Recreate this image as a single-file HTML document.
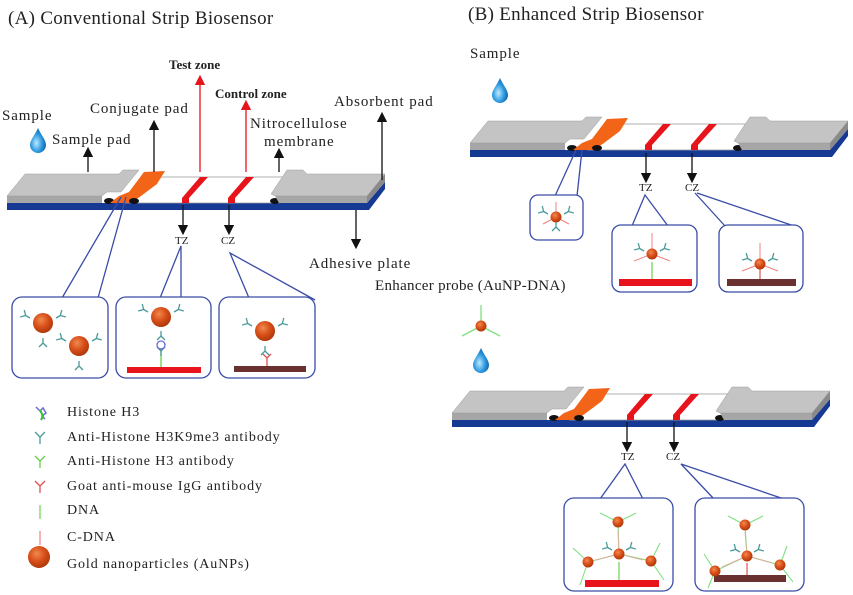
<!DOCTYPE html>
<html><head><meta charset="utf-8"><style>
html,body{margin:0;padding:0;background:#fff}
svg{display:block}
text{font-family:"Liberation Serif",serif;fill:#222}
.l{letter-spacing:0.9px}
.t{letter-spacing:0.3px}
</style></head><body>
<svg width="853" height="595" viewBox="0 0 853 595" xmlns="http://www.w3.org/2000/svg">
<defs>
<radialGradient id="au" cx="0.4" cy="0.35" r="0.7"><stop offset="0" stop-color="#f08a50"/><stop offset="0.5" stop-color="#d9501a"/><stop offset="1" stop-color="#a83408"/></radialGradient>
<radialGradient id="dr" cx="0.4" cy="0.6" r="0.7"><stop offset="0" stop-color="#bfe9ff"/><stop offset="0.5" stop-color="#2e9be0"/><stop offset="1" stop-color="#0a4f9a"/></radialGradient>
<g id="drop"><path d="M0,-12 C3,-5 8,0 8,5 A8,8 0 0 1 -8,5 C-8,0 -3,-5 0,-12Z" fill="url(#dr)"/></g>
<marker id="ak" markerWidth="8" markerHeight="8" refX="4" refY="4" orient="auto"><path d="M0,0 L8,4 L0,8Z" fill="#111"/></marker>
<marker id="ar" markerWidth="8" markerHeight="8" refX="4" refY="4" orient="auto"><path d="M0,0 L8,4 L0,8Z" fill="#e8141c"/></marker>
<g id="ab"><path d="M0,0 V-5 M0,-5 L-4,-9 M0,-5 L4,-9" stroke="#4a9a9a" stroke-width="1.3" fill="none"/></g>
<g id="strip">
<path d="M0,-7 L360,-7 L378,-28 L378,-21 L362,0 L0,0Z" fill="#163a94"/>
<path d="M0,-14 L95,-14 L95,-7 L0,-7Z" fill="#a6a6a6"/>
<path d="M0,-14 L18,-36 L112,-36 L116,-40 L132,-40 L114,-18 L100,-18 L95,-14Z" fill="#c4c4c4" stroke="#9a9a9a" stroke-width="0.5"/>
<ellipse cx="102" cy="-9" rx="5" ry="3" fill="#111"/>
<path d="M118,-7 L136,-33 L290,-33 L272,-7Z" fill="#fff" stroke="#999" stroke-width="0.8"/>
<path d="M103,-7 L112,-14 L122,-18 L137,-38 L158,-39 L150,-26 L134,-14 L124,-7Z" fill="#f26418"/>
<ellipse cx="127" cy="-9" rx="5" ry="3" fill="#111"/>
<path d="M175,-7 L175,-12 L193,-33 L201,-33 L182,-12 L182,-7Z" fill="#e8141c"/>
<path d="M221,-7 L221,-12 L239,-33 L247,-33 L228,-12 L228,-7Z" fill="#e8141c"/>
<ellipse cx="268" cy="-9" rx="5" ry="3" fill="#111"/>
<path d="M268,-14 L360,-14 L360,-7 L272,-7Z" fill="#a6a6a6"/>
<path d="M360,-14 L378,-36 L378,-28 L360,-7Z" fill="#8a8a8a"/>
<path d="M264,-16 L280,-40 L296,-40 L300,-36 L378,-36 L360,-14 L268,-14Z" fill="#c4c4c4" stroke="#9a9a9a" stroke-width="0.5"/>
</g>
<g id="np"><circle r="10" fill="url(#au)"/></g>
<g id="nps"><circle r="5.5" fill="url(#au)"/></g>
</defs>

<text x="8" y="24" font-size="19" class="t">(A) Conventional Strip Biosensor</text>
<text x="468" y="20" font-size="19" class="t">(B) Enhanced Strip Biosensor</text>

<!-- Strip A -->
<use href="#strip" x="7" y="210"/>
<text x="2" y="120" font-size="15" class="l">Sample</text>
<use href="#drop" x="38" y="140"/>
<text x="52" y="144" font-size="15" class="l">Sample pad</text>
<line x1="88" y1="172" x2="88" y2="152" stroke="#111" stroke-width="1.3" marker-end="url(#ak)"/>
<text x="90" y="113" font-size="15" class="l">Conjugate pad</text>
<line x1="154" y1="172" x2="154" y2="125" stroke="#111" stroke-width="1.3" marker-end="url(#ak)"/>
<text x="169" y="69" font-size="13" font-weight="bold">Test zone</text>
<line x1="200" y1="172" x2="200" y2="80" stroke="#e8141c" stroke-width="1.3" marker-end="url(#ar)"/>
<text x="215" y="98" font-size="13" font-weight="bold">Control zone</text>
<line x1="246" y1="172" x2="246" y2="105" stroke="#e8141c" stroke-width="1.3" marker-end="url(#ar)"/>
<text x="250" y="128" font-size="15" class="l">Nitrocellulose</text>
<text x="264" y="146" font-size="15" class="l">membrane</text>
<line x1="279" y1="172" x2="279" y2="153" stroke="#111" stroke-width="1.3" marker-end="url(#ak)"/>
<text x="334" y="106" font-size="15" class="l">Absorbent pad</text>
<line x1="382" y1="180" x2="382" y2="117" stroke="#111" stroke-width="1.3" marker-end="url(#ak)"/>
<line x1="356" y1="210" x2="356" y2="244" stroke="#111" stroke-width="1.3" marker-end="url(#ak)"/>
<text x="309" y="268" font-size="15" class="l">Adhesive plate</text>
<line x1="183" y1="205" x2="183" y2="230" stroke="#111" stroke-width="1.3" marker-end="url(#ak)"/>
<text x="175" y="244" font-size="11">TZ</text>
<line x1="229" y1="205" x2="229" y2="230" stroke="#111" stroke-width="1.3" marker-end="url(#ak)"/>
<text x="221" y="244" font-size="11">CZ</text>

<g stroke="#3a4ca8" stroke-width="1.3" fill="none">
<path d="M62,298 L121,197 M98,298 L126,197"/>
<path d="M160,298 L181,246 L181,298"/>
<path d="M249,298 L230,253 L315,300"/>
<rect x="12" y="297" width="96" height="81" rx="10" fill="#fff"/>
<rect x="116" y="297" width="95" height="81" rx="10" fill="#fff"/>
<rect x="219" y="297" width="96" height="81" rx="10" fill="#fff"/>
</g>
<!-- box1 -->
<use href="#np" x="43" y="323"/><use href="#np" x="79" y="346"/>
<use href="#ab" x="30" y="318" transform="rotate(-60 30 318)"/><use href="#ab" x="56" y="318" transform="rotate(60 56 318)"/><use href="#ab" x="43" y="338" transform="rotate(180 43 338)"/>
<use href="#ab" x="66" y="341" transform="rotate(-60 66 341)"/><use href="#ab" x="92" y="341" transform="rotate(60 92 341)"/><use href="#ab" x="79" y="361" transform="rotate(180 79 361)"/>
<!-- box2 -->
<rect x="127" y="367" width="74" height="6" fill="#e8141c"/>
<line x1="161" y1="367" x2="161" y2="348" stroke="#6ad04a" stroke-width="1.3"/>
<use href="#ab" x="161" y="356"/>
<circle cx="161" cy="345" r="4" fill="none" stroke="#6a6ad8" stroke-width="1.3"/>
<use href="#np" x="161" y="317"/>
<use href="#ab" x="148" y="312" transform="rotate(-60 148 312)"/><use href="#ab" x="174" y="312" transform="rotate(60 174 312)"/><use href="#ab" x="161" y="331" transform="rotate(180 161 331)"/>
<!-- box3 -->
<rect x="234" y="366" width="72" height="6" fill="#6b3030"/>
<path d="M267,366 V358 M267,358 L263,354 M267,358 L271,354" stroke="#e05050" stroke-width="1.3" fill="none"/>
<use href="#np" x="265" y="331"/>
<use href="#ab" x="252" y="326" transform="rotate(-60 252 326)"/><use href="#ab" x="278" y="326" transform="rotate(60 278 326)"/><use href="#ab" x="265" y="346" transform="rotate(180 265 346)"/>

<!-- Legend -->
<g font-size="14" class="l">
<text x="67" y="416">Histone H3</text>
<text x="67" y="441">Anti-Histone H3K9me3 antibody</text>
<text x="67" y="465">Anti-Histone H3 antibody</text>
<text x="67" y="490">Goat anti-mouse IgG antibody</text>
<text x="67" y="514">DNA</text>
<text x="67" y="541">C-DNA</text>
<text x="67" y="568">Gold nanoparticles (AuNPs)</text>
</g>
<path d="M36,407 l4,4 l3,-3 l3,5 l-4,3 l3,3" stroke="#6a6ad8" stroke-width="1.5" fill="none"/>
<path d="M40,410 l3,6 l-2,4" stroke="#33c033" stroke-width="2" fill="none"/>
<path d="M40,444 V437 M40,437 L35,432 M40,437 L45,432" stroke="#4a9a9a" stroke-width="1.3" fill="none"/>
<path d="M40,468 V461 M40,461 L35,456 M40,461 L45,456" stroke="#6ad04a" stroke-width="1.3" fill="none"/>
<path d="M40,493 V486 M40,486 L35,481 M40,486 L45,481" stroke="#e05050" stroke-width="1.3" fill="none"/>
<line x1="40" y1="505" x2="40" y2="519" stroke="#6ad04a" stroke-width="1.2"/>
<line x1="40" y1="531" x2="40" y2="545" stroke="#f08080" stroke-width="1.2"/>
<circle cx="39" cy="557" r="11" fill="url(#au)"/>

<!-- B top -->
<text x="470" y="58" font-size="15" class="l">Sample</text>
<use href="#drop" x="500" y="90"/>
<use href="#strip" x="470" y="157"/>
<line x1="646" y1="153" x2="646" y2="178" stroke="#111" stroke-width="1.3" marker-end="url(#ak)"/>
<text x="639" y="191" font-size="11">TZ</text>
<line x1="692" y1="153" x2="692" y2="178" stroke="#111" stroke-width="1.3" marker-end="url(#ak)"/>
<text x="685" y="191" font-size="11">CZ</text>
<g stroke="#3a4ca8" stroke-width="1.3" fill="none">
<path d="M555,196 L576,150 M577,196 L582,150"/>
<path d="M632,226 L645,195 L668,226"/>
<path d="M725,226 L695,193 M697,193 L800,228"/>
<rect x="530" y="195" width="53" height="45" rx="8" fill="#fff"/>
<rect x="612" y="225" width="85" height="67" rx="9" fill="#fff"/>
<rect x="719" y="225" width="84" height="67" rx="9" fill="#fff"/>
</g>
<g stroke="#f08080" stroke-width="1" fill="none">
<path d="M556,217 V202 M556,217 L543,224 M556,217 L569,224"/>
<path d="M652,254 V233 M652,254 L634,261 M652,254 L670,261"/>
<path d="M760,264 V243 M760,264 L742,271 M760,264 L778,271"/>
</g>
<use href="#nps" x="556" y="217"/>
<use href="#ab" x="548" y="214" transform="rotate(-60 548 214)"/><use href="#ab" x="564" y="214" transform="rotate(60 564 214)"/><use href="#ab" x="556" y="222" transform="rotate(180 556 222)"/>
<rect x="619" y="279" width="73" height="7" fill="#e8141c"/>
<line x1="652" y1="279" x2="652" y2="262" stroke="#6ad04a" stroke-width="1.2"/>
<use href="#nps" x="652" y="254"/>
<use href="#ab" x="644" y="251" transform="rotate(-60 644 251)"/><use href="#ab" x="660" y="251" transform="rotate(60 660 251)"/>
<rect x="727" y="279" width="69" height="7" fill="#6b3030"/>
<line x1="760" y1="279" x2="760" y2="268" stroke="#e05050" stroke-width="1.2"/>
<use href="#nps" x="760" y="264"/>
<use href="#ab" x="752" y="261" transform="rotate(-60 752 261)"/><use href="#ab" x="768" y="261" transform="rotate(60 768 261)"/>

<!-- enhancer -->
<text x="375" y="290" font-size="15" class="t">Enhancer probe (AuNP-DNA)</text>
<path d="M481,326 V305 M481,326 L462,336 M481,326 L500,336" stroke="#80e080" stroke-width="1.3"/>
<use href="#nps" x="481" y="326"/>
<use href="#drop" x="481" y="360"/>

<!-- B bottom -->
<use href="#strip" x="452" y="427"/>
<line x1="627" y1="422" x2="627" y2="447" stroke="#111" stroke-width="1.3" marker-end="url(#ak)"/>
<text x="621" y="460" font-size="11">TZ</text>
<line x1="674" y1="422" x2="674" y2="447" stroke="#111" stroke-width="1.3" marker-end="url(#ak)"/>
<text x="666" y="460" font-size="11">CZ</text>
<g stroke="#3a4ca8" stroke-width="1.3" fill="none">
<path d="M600,499 L625,464 L643,499"/>
<path d="M714,499 L681,464 L784,499"/>
<rect x="564" y="498" width="109" height="93" rx="10" fill="#fff"/>
<rect x="695" y="498" width="109" height="93" rx="10" fill="#fff"/>
</g>
<g stroke="#80e080" stroke-width="1.1" fill="none">
<path d="M619,554 L618,522 M619,554 L588,562 M619,554 L651,561"/>
<path d="M618,522 L600,513 M618,522 L636,513 M588,562 L573,548 M588,562 L580,585 M651,561 L660,543 M651,561 L664,580"/>
<path d="M747,556 L745,525 M747,556 L715,571 M747,556 L780,565"/>
<path d="M745,525 L728,516 M745,525 L763,516 M715,571 L704,554 M715,571 L708,588 M780,565 L787,546 M780,565 L793,582"/>
</g>
<g stroke="#f0a0a0" stroke-width="1" fill="none" opacity="0.8">
<path d="M619,554 L618,530 M619,554 L596,560 M619,554 L643,560"/>
<path d="M747,556 L745,532 M747,556 L722,567 M747,556 L772,563"/>
</g>
<rect x="585" y="580" width="74" height="7" fill="#e8141c"/>
<line x1="619" y1="580" x2="619" y2="562" stroke="#6ad04a" stroke-width="1.2"/>
<use href="#nps" x="619" y="554"/><use href="#nps" x="618" y="522"/><use href="#nps" x="588" y="562"/><use href="#nps" x="651" y="561"/>
<use href="#ab" x="612" y="550" transform="rotate(-60 612 550)"/><use href="#ab" x="626" y="550" transform="rotate(60 626 550)"/>
<rect x="714" y="575" width="72" height="7" fill="#6b3030"/>
<line x1="747" y1="575" x2="747" y2="563" stroke="#e05050" stroke-width="1.2"/>
<use href="#nps" x="747" y="556"/><use href="#nps" x="745" y="525"/><use href="#nps" x="715" y="571"/><use href="#nps" x="780" y="565"/>
<use href="#ab" x="740" y="552" transform="rotate(-60 740 552)"/><use href="#ab" x="754" y="552" transform="rotate(60 754 552)"/>
</svg>
</body></html>
